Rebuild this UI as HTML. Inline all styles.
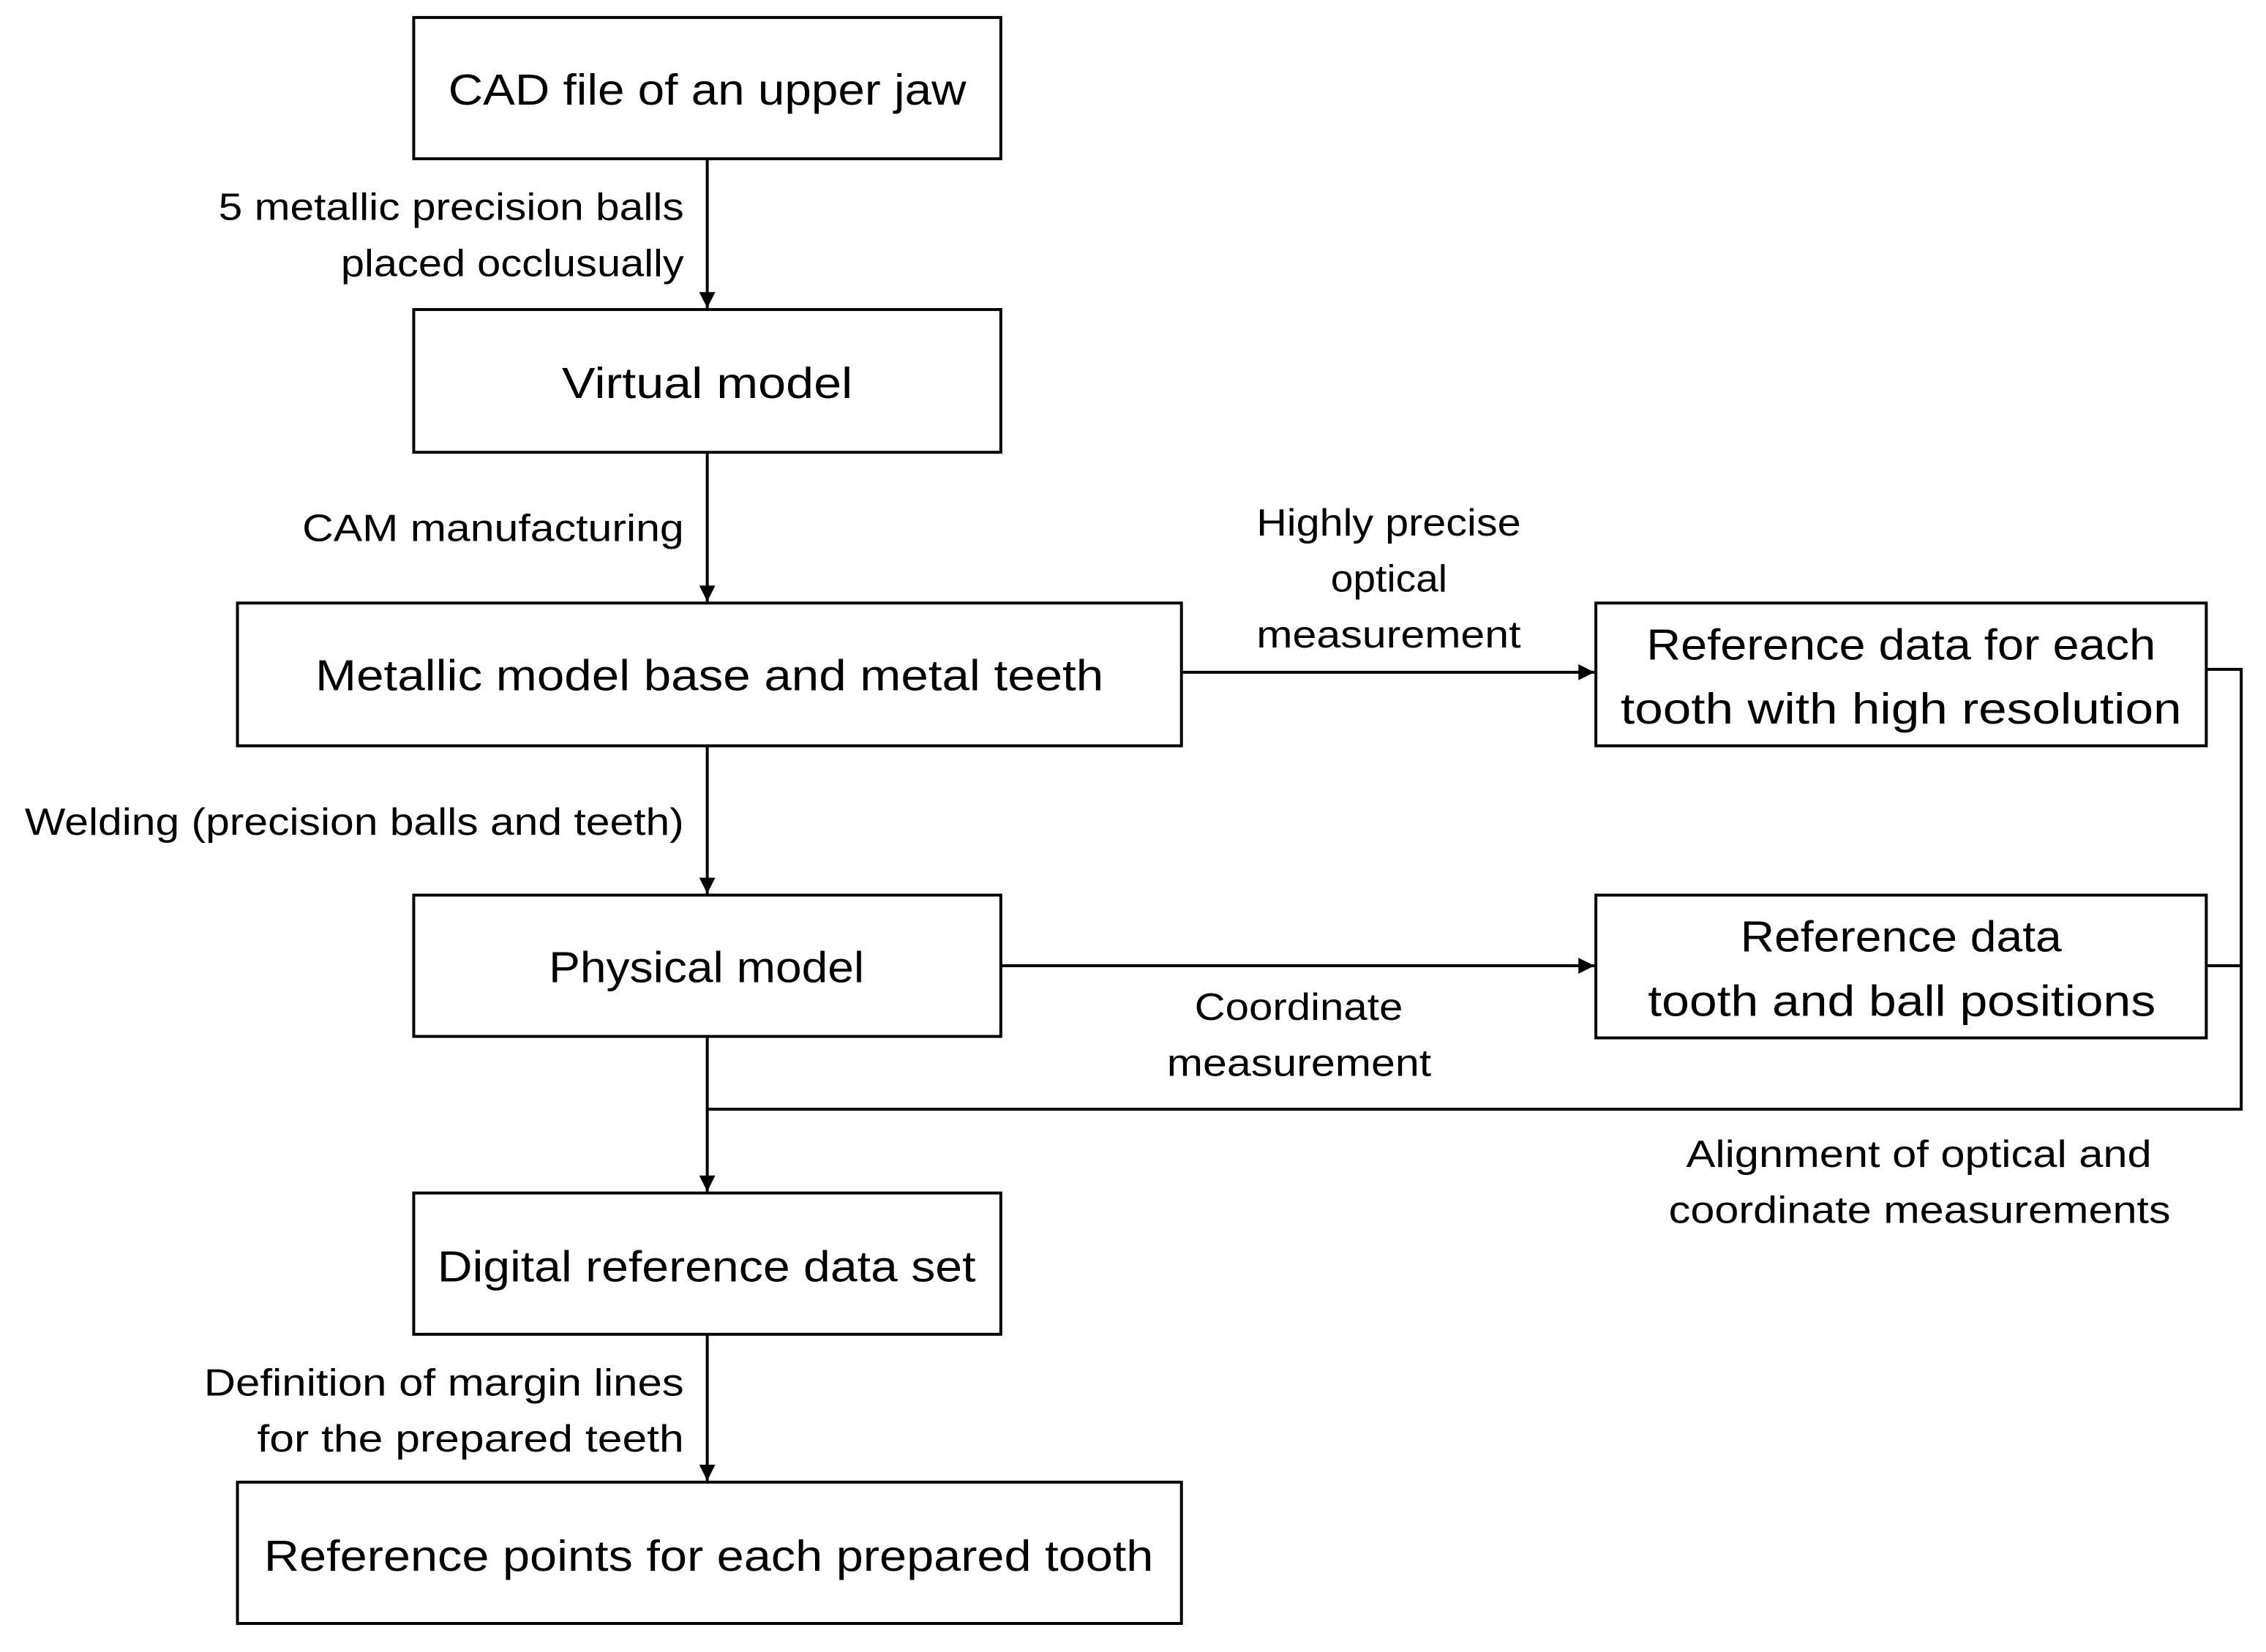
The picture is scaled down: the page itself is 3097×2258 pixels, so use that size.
<!DOCTYPE html>
<html><head><meta charset="utf-8"><style>html,body{margin:0;padding:0;background:#fff}svg{display:block}text{font-family:"Liberation Sans",sans-serif;fill:#000;dominant-baseline:central}</style></head><body>
<svg width="3097" height="2258" viewBox="0 0 3097 2258" xmlns="http://www.w3.org/2000/svg">
<defs><marker id="b" viewBox="0 0 10 10" refX="10" refY="5" markerWidth="24" markerHeight="22" orient="auto" markerUnits="userSpaceOnUse"><path d="M0,0 L10,5 L0,10 z" fill="#000"/></marker></defs>
<g transform="scale(0.9955)">
<g fill="none" stroke="#000" stroke-width="4">
<rect x="568" y="24" width="806" height="194"/>
<rect x="568" y="425" width="806" height="196"/>
<rect x="326" y="828" width="1296" height="196"/>
<rect x="568" y="1229" width="806" height="194"/>
<rect x="568" y="1638" width="806" height="194"/>
<rect x="326" y="2035" width="1296" height="194"/>
<rect x="2191" y="828" width="838" height="196"/>
<rect x="2191" y="1229" width="838" height="196"/>
<line x1="971" y1="218" x2="971" y2="423" marker-end="url(#b)"/>
<line x1="971" y1="621" x2="971" y2="826" marker-end="url(#b)"/>
<line x1="971" y1="1024" x2="971" y2="1227" marker-end="url(#b)"/>
<line x1="971" y1="1423" x2="971" y2="1636" marker-end="url(#b)"/>
<line x1="971" y1="1832" x2="971" y2="2033" marker-end="url(#b)"/>
<line x1="1622" y1="923" x2="2189" y2="923" marker-end="url(#b)"/>
<line x1="1374" y1="1326" x2="2189" y2="1326" marker-end="url(#b)"/>
<polyline points="3029,919 3077,919 3077,1523 971,1523"/>
<line x1="3029" y1="1326" x2="3077" y2="1326"/>
</g>
<g font-size="60" text-anchor="middle">
<text x="971" y="123" textLength="711" lengthAdjust="spacingAndGlyphs">CAD file of an upper jaw</text>
<text x="971" y="526" textLength="399" lengthAdjust="spacingAndGlyphs">Virtual model</text>
<text x="974" y="927" textLength="1082" lengthAdjust="spacingAndGlyphs">Metallic model base and metal teeth</text>
<text x="2610" y="885" textLength="699" lengthAdjust="spacingAndGlyphs">Reference data for each</text>
<text x="2610" y="973" textLength="770" lengthAdjust="spacingAndGlyphs">tooth with high resolution</text>
<text x="970" y="1328" textLength="433" lengthAdjust="spacingAndGlyphs">Physical model</text>
<text x="2610" y="1286" textLength="441" lengthAdjust="spacingAndGlyphs">Reference data</text>
<text x="2611" y="1374" textLength="697" lengthAdjust="spacingAndGlyphs">tooth and ball positions</text>
<text x="970" y="1739" textLength="739" lengthAdjust="spacingAndGlyphs">Digital reference data set</text>
<text x="973" y="2136" textLength="1221" lengthAdjust="spacingAndGlyphs">Reference points for each prepared tooth</text>
</g>
<g font-size="52">
<text x="300" y="284" textLength="639" lengthAdjust="spacingAndGlyphs">5 metallic precision balls</text>
<text x="468" y="361" textLength="471" lengthAdjust="spacingAndGlyphs">placed occlusually</text>
<text x="415" y="725" textLength="524" lengthAdjust="spacingAndGlyphs">CAM manufacturing</text>
<text x="1725" y="717" textLength="363" lengthAdjust="spacingAndGlyphs">Highly precise</text>
<text x="1827" y="794" textLength="160" lengthAdjust="spacingAndGlyphs">optical</text>
<text x="1725" y="871" textLength="363" lengthAdjust="spacingAndGlyphs">measurement</text>
<text x="34" y="1128" textLength="905" lengthAdjust="spacingAndGlyphs">Welding (precision balls and teeth)</text>
<text x="1640" y="1382" textLength="286" lengthAdjust="spacingAndGlyphs">Coordinate</text>
<text x="1602" y="1459" textLength="363" lengthAdjust="spacingAndGlyphs">measurement</text>
<text x="2315" y="1584" textLength="639" lengthAdjust="spacingAndGlyphs">Alignment of optical and</text>
<text x="2291" y="1661" textLength="689" lengthAdjust="spacingAndGlyphs">coordinate measurements</text>
<text x="280" y="1898" textLength="659" lengthAdjust="spacingAndGlyphs">Definition of margin lines</text>
<text x="353" y="1975" textLength="586" lengthAdjust="spacingAndGlyphs">for the prepared teeth</text>
</g>
</g>
</svg>
</body></html>
